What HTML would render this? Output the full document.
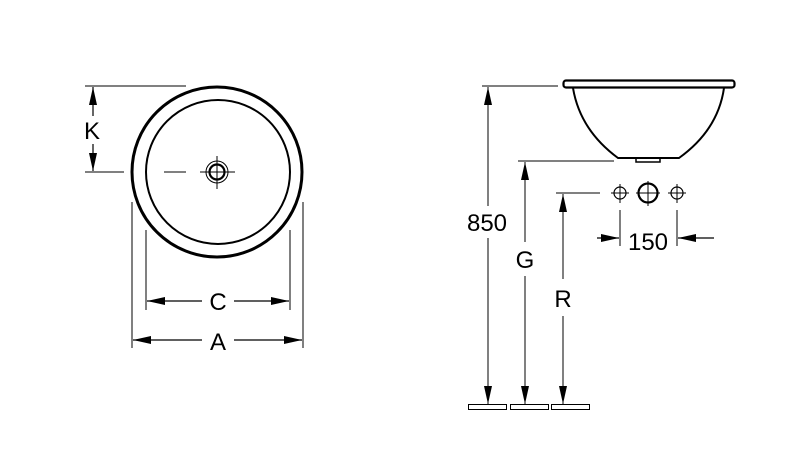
<!DOCTYPE html>
<html><head><meta charset="utf-8"><style>
html,body{margin:0;padding:0;background:#fff;}
svg{display:block;}
text{font-family:"Liberation Sans",sans-serif;fill:#000;}
</style></head><body>
<svg width="812" height="465" viewBox="0 0 812 465" xmlns="http://www.w3.org/2000/svg">
<defs>
<marker id="a" viewBox="0 0 18 8" refX="18" refY="4" markerWidth="18" markerHeight="8" markerUnits="userSpaceOnUse" orient="auto-start-reverse" preserveAspectRatio="none">
<path d="M0,0 L18,4 L0,8 z" fill="#000"/>
</marker>
</defs>
<g stroke="#000" fill="none">
<circle cx="217" cy="172" r="85" stroke-width="3"/>
<circle cx="218" cy="172" r="72" stroke-width="2"/>
<circle cx="217" cy="172" r="11" stroke-width="1"/>
<circle cx="217" cy="172" r="7.5" stroke-width="2.2"/>
<line x1="200" y1="172" x2="235" y2="172" stroke-width="1"/>
<line x1="217" y1="156" x2="217" y2="189" stroke-width="1"/>
<line x1="164" y1="172" x2="186" y2="172" stroke-width="1"/>
<line x1="85" y1="86" x2="186" y2="86" stroke-width="1"/>
<line x1="85" y1="172" x2="124" y2="172" stroke-width="1"/>
<line x1="93" y1="116" x2="93" y2="87" stroke-width="1.2" marker-end="url(#a)"/>
<line x1="93" y1="144" x2="93" y2="171" stroke-width="1.2" marker-end="url(#a)"/>
<line x1="146" y1="230" x2="146" y2="310" stroke-width="1"/>
<line x1="290" y1="230" x2="290" y2="310" stroke-width="1"/>
<line x1="202" y1="301" x2="147" y2="301" stroke-width="1.2" marker-end="url(#a)"/>
<line x1="234" y1="301" x2="289" y2="301" stroke-width="1.2" marker-end="url(#a)"/>
<line x1="132" y1="202" x2="132" y2="348" stroke-width="1"/>
<line x1="303" y1="202" x2="303" y2="348" stroke-width="1"/>
<line x1="202" y1="340" x2="133" y2="340" stroke-width="1.2" marker-end="url(#a)"/>
<line x1="234" y1="340" x2="302" y2="340" stroke-width="1.2" marker-end="url(#a)"/>

<rect x="563.5" y="80.5" width="171" height="7" rx="2.5" stroke-width="2.2"/>
<path d="M573,88 Q580,130 618,158 L679,158 Q718,130 724,88" stroke-width="2"/>
<path d="M636,158 L636,162 L660,162 L660,158" stroke-width="1.5"/>
<line x1="482" y1="86" x2="558" y2="86" stroke-width="1"/>
<line x1="518" y1="161" x2="614" y2="161" stroke-width="1"/>
<line x1="556" y1="193" x2="600" y2="193" stroke-width="1"/>
<line x1="488" y1="206" x2="488" y2="87" stroke-width="1" marker-end="url(#a)"/>
<line x1="488" y1="238" x2="488" y2="404" stroke-width="1" marker-end="url(#a)"/>
<line x1="525" y1="242" x2="525" y2="162" stroke-width="1" marker-end="url(#a)"/>
<line x1="525" y1="276" x2="525" y2="404" stroke-width="1" marker-end="url(#a)"/>
<line x1="563" y1="279" x2="563" y2="194" stroke-width="1" marker-end="url(#a)"/>
<line x1="563" y1="316" x2="563" y2="404" stroke-width="1" marker-end="url(#a)"/>
<rect x="468.5" y="404.5" width="38" height="5" stroke-width="1"/>
<rect x="510.5" y="404.5" width="38" height="5" stroke-width="1"/>
<rect x="551.5" y="404.5" width="38" height="5" stroke-width="1"/>
<circle cx="620" cy="193" r="6" stroke-width="1.2"/>
<line x1="611" y1="193" x2="629" y2="193" stroke-width="1"/>
<line x1="620" y1="184" x2="620" y2="203" stroke-width="1"/>
<circle cx="648" cy="193" r="9.5" stroke-width="2.2"/>
<line x1="636" y1="193" x2="660" y2="193" stroke-width="1"/>
<line x1="648" y1="181" x2="648" y2="206" stroke-width="1"/>
<circle cx="677" cy="193" r="6" stroke-width="1.2"/>
<line x1="668" y1="193" x2="686" y2="193" stroke-width="1"/>
<line x1="677" y1="184" x2="677" y2="203" stroke-width="1"/>
<line x1="620" y1="210" x2="620" y2="246" stroke-width="1"/>
<line x1="677" y1="210" x2="677" y2="246" stroke-width="1"/>
<line x1="597" y1="238" x2="619" y2="238" stroke-width="1.2" marker-end="url(#a)"/>
<line x1="714" y1="238" x2="678" y2="238" stroke-width="1.2" marker-end="url(#a)"/>
</g>
<g font-size="24" text-anchor="middle">
<text x="92" y="139">K</text>
<text x="218" y="310">C</text>
<text x="218" y="350">A</text>
<text x="487" y="231">850</text>
<text x="525" y="268">G</text>
<text x="563" y="307">R</text>
<text x="648" y="250">150</text>
</g>
</svg>
</body></html>
